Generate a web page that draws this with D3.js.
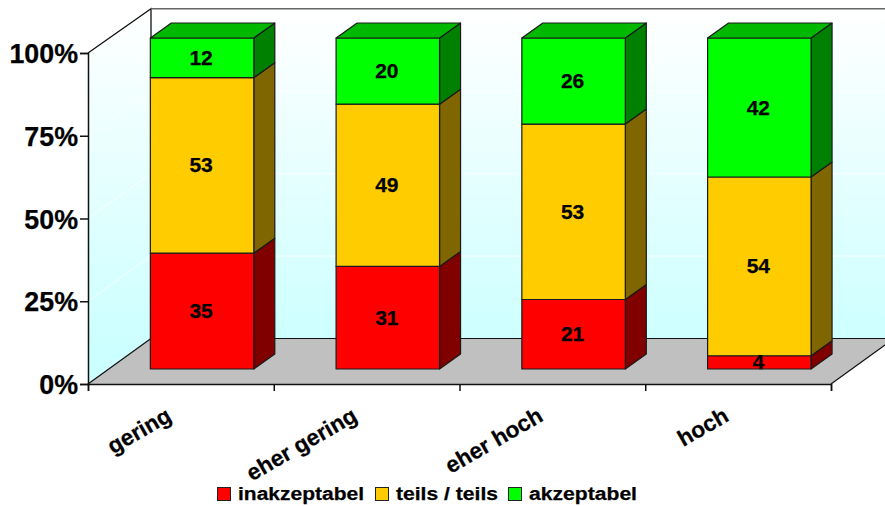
<!DOCTYPE html>
<html>
<head>
<meta charset="utf-8">
<script src="https://cdn.jsdelivr.net/npm/d3@7"></script>
<style>
  html, body { margin: 0; padding: 0; background: #fff; }
  svg { display: block; }
  text { font-family: "Liberation Sans", Arial, sans-serif; font-weight: bold; fill: #000; stroke: #000; stroke-width: 0.25px; }
  .domain { stroke: #111; stroke-width: 1.5; }
  .tick line { stroke: #111; stroke-width: 1.5; }
</style>
</head>
<body>
<script>
var categories = ["gering", "eher gering", "eher hoch", "hoch"];
var seriesNames = ["inakzeptabel", "teils / teils", "akzeptabel"];
var inakzeptabel = [35, 31, 21, 4];
var teils = [53, 49, 53, 54];
var akzeptabel = [12, 20, 26, 42];
var yTicks = [0, 25, 50, 75, 100];

var w = 885, h = 506;
var x0 = 88, x1 = 831, y0 = 384, y1 = 53;
var backDx = 63;                  // floor depth
var barDx = 21, barDy = -15;      // bar depth
var barOffDx = 21.2, barOffDy = -15; // how far the bar front sits behind the axis

var svg = d3.select("body").append("svg").attr("width", w).attr("height", h);

var defs = svg.append("defs");
var grad = defs.append("linearGradient").attr("id", "wall").attr("gradientUnits", "userSpaceOnUse")
  .attr("x1", 0).attr("x2", 0).attr("y1", 9).attr("y2", 384);
grad.append("stop").attr("offset", 0).attr("stop-color", "#ffffff");
grad.append("stop").attr("offset", 0.9).attr("stop-color", "#ccffff");

var x = d3.scaleBand().domain(categories).range([x0, x1]).paddingInner(0.443).paddingOuter(0.2215);
var xEdges = d3.scaleLinear().domain([0, categories.length]).range([x0, x1]);
var y = d3.scaleLinear().domain([0, 100]).range([y0, y1]);
var yBack = d3.scaleLinear().domain([0, 100]).range([338.5, 8.7]);

function poly(pts) { return "M" + pts.map(function(p) { return p[0] + "," + p[1]; }).join("L") + "Z"; }

// walls and floor
var bx = x0 + backDx, bxr = x1 + backDx;
svg.append("path").attr("d", poly([[x0, y(0)], [bx, yBack(0)], [bx, yBack(100)], [x0, y(100)]]))
  .attr("fill", "url(#wall)").attr("stroke", "none");
svg.append("rect").attr("x", bx).attr("y", yBack(100)).attr("width", w - bx).attr("height", yBack(0) - yBack(100))
  .attr("fill", "url(#wall)");
svg.append("path").attr("d", poly([[x0, y(0)], [x1, y(0)], [bxr, yBack(0)], [bx, yBack(0)]]))
  .attr("fill", "#c0c0c0");

// faint gridlines on the walls
yTicks.slice(1, 4).forEach(function(t) {
  svg.append("path")
    .attr("d", "M" + x0 + "," + y(t) + "L" + bx + "," + yBack(t) + "L" + w + "," + yBack(t))
    .attr("fill", "none").attr("stroke", "#ffffff").attr("stroke-width", 1).attr("opacity", 0.8);
});

// wall outlines
svg.append("path").attr("d", "M" + x0 + "," + y(100) + "L" + bx + "," + yBack(100) + "L" + bx + "," + yBack(0) + "L" + x0 + "," + y(0))
  .attr("fill", "none").attr("stroke", "#111").attr("stroke-width", 1.3);
svg.append("path").attr("d", "M" + bx + "," + yBack(100) + "L" + w + "," + yBack(100))
  .attr("stroke", "#666").attr("stroke-width", 1.5);
svg.append("path").attr("d", "M" + bx + "," + yBack(0) + "L" + w + "," + yBack(0))
  .attr("stroke", "#111").attr("stroke-width", 1.2);
svg.append("path").attr("d", "M" + x1 + "," + y(0) + "L" + bxr + "," + yBack(0))
  .attr("stroke", "#111").attr("stroke-width", 1.2);

// bars
var stack = d3.stack().keys(seriesNames)(categories.map(function(c, i) {
  var row = { cat: c };
  row[seriesNames[0]] = inakzeptabel[i];
  row[seriesNames[1]] = teils[i];
  row[seriesNames[2]] = akzeptabel[i];
  return row;
}));
var front = ["#ff0000", "#ffcc00", "#00ff00"];
var side = ["#800000", "#806600", "#008000"];
var topFace = "#00b800";
var bw = x.bandwidth();
var edge = { stroke: "#1a1a1a", "stroke-width": 1.2, "stroke-linejoin": "round" };

function styled(sel) { Object.keys(edge).forEach(function(k) { sel.attr(k, edge[k]); }); return sel; }

stack.forEach(function(layer, s) {
  layer.forEach(function(d) {
    var lx = x(d.data.cat) + barOffDx;
    var yb = y(d[0]) + barOffDy, yt = y(d[1]) + barOffDy;
    styled(svg.append("path").attr("fill", side[s])
      .attr("d", poly([[lx + bw, yb], [lx + bw + barDx, yb + barDy], [lx + bw + barDx, yt + barDy], [lx + bw, yt]])));
    styled(svg.append("rect").attr("fill", front[s])
      .attr("x", lx).attr("y", yt).attr("width", bw).attr("height", yb - yt));
    if (s === stack.length - 1) {
      styled(svg.append("path").attr("fill", topFace)
        .attr("d", poly([[lx, yt], [lx + barDx, yt + barDy], [lx + bw + barDx, yt + barDy], [lx + bw, yt]])));
    }
  });
});

// value labels
stack.forEach(function(layer) {
  layer.forEach(function(d) {
    svg.append("text")
      .attr("x", x(d.data.cat) + barOffDx + bw / 2 - 1)
      .attr("y", y((d[0] + d[1]) / 2) + barOffDy + 7)
      .attr("text-anchor", "middle").attr("font-size", 21)
      .text(d[1] - d[0]);
  });
});

// axes
var yAxis = svg.append("g").attr("transform", "translate(" + x0 + ",0)")
  .call(d3.axisLeft(y).tickValues(yTicks).tickSize(8).tickPadding(2).tickFormat(function(d) { return d + "%"; }));
yAxis.selectAll("text").attr("font-size", 26.8).style("font-weight", "bold").style("font-family", "Liberation Sans");
yAxis.selectAll("text").attr("dy", "0.36em");

var xAxis = svg.append("g").attr("transform", "translate(0," + y0 + ")")
  .call(d3.axisBottom(xEdges).tickValues(d3.range(categories.length + 1)).tickSize(7).tickFormat(""));

categories.forEach(function(c) {
  svg.append("text")
    .attr("transform", "translate(" + (x(c) + bw / 2 - 8) + ",420) rotate(-30)")
    .attr("text-anchor", "end").attr("font-size", 22.6)
    .text(c);
});

// legend
var legendX = [217, 375, 508];
var legendW = [126, 102, 108];
seriesNames.forEach(function(n, i) {
  svg.append("rect").attr("x", legendX[i] + 0.5).attr("y", 487.5).attr("width", 13).attr("height", 13)
    .attr("fill", front[i]).attr("stroke", "#222").attr("stroke-width", 1);
  svg.append("text").attr("x", legendX[i] + 21).attr("y", 500).attr("font-size", 18)
    .attr("textLength", legendW[i]).attr("lengthAdjust", "spacingAndGlyphs")
    .text(n);
});
</script>
</body>
</html>
